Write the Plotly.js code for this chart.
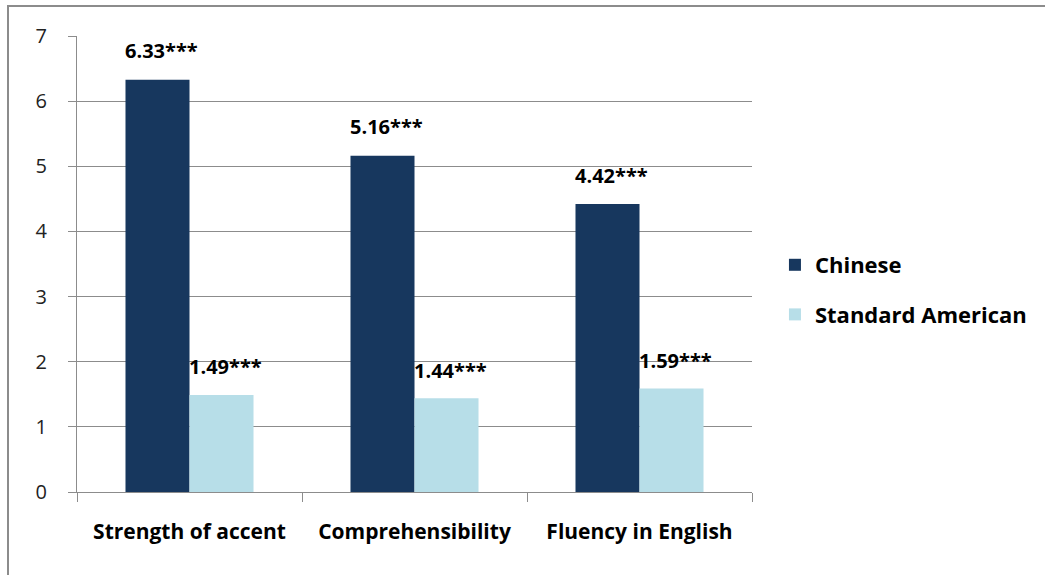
<!DOCTYPE html>
<html>
<head>
<meta charset="utf-8">
<script src="https://cdn.plot.ly/plotly-3.0.1.min.js"></script>
<style>
  html, body { margin: 0; padding: 0; background: #fff; }
  #wrap { position: relative; width: 1045px; height: 575px; overflow: hidden; }
  #chart { width: 1045px; height: 575px; }
  #frame { position: absolute; left: 7px; top: 5px; width: 1100px; height: 700px;
           border-top: 2px solid #8c8c8c; border-left: 2px solid #8c8c8c; pointer-events: none; }
</style>
</head>
<body>
<div id="wrap"><div id="chart"></div><div id="frame"></div></div>
<script>
const categories = ["Strength of accent", "Comprehensibility", "Fluency in English"];
const chineseValues = [6.33, 5.16, 4.42];
const americanValues = [1.49, 1.44, 1.59];
const chineseLabels = ["6.33***", "5.16***", "4.42***"];
const americanLabels = ["1.49***", "1.44***", "1.59***"];
const seriesNames = ["Chinese", "Standard American"];
const yTicks = [0, 1, 2, 3, 4, 5, 6, 7];

const FONT = "'Open Sans', 'Noto Sans', sans-serif";

const traces = [
  { type: "bar", name: seriesNames[0], x: categories, y: chineseValues,
    marker: { color: "#17375E" }, legendgroup: "a", hoverinfo: "none" },
  { type: "bar", name: seriesNames[1], x: categories, y: americanValues,
    marker: { color: "#B7DEE8" }, legendgroup: "b", hoverinfo: "none" }
];

const annotations = [];
categories.forEach((c, i) => {
  annotations.push({ x: c, y: chineseValues[i], xref: "x", yref: "y", text: "<b>" + chineseLabels[i] + "</b>",
    showarrow: false, xanchor: "left", yanchor: "middle", xshift: -67, yshift: 29,
    font: { family: FONT, size: 20, color: "#000" } });
  annotations.push({ x: c, y: americanValues[i], xref: "x", yref: "y", text: "<b>" + americanLabels[i] + "</b>",
    showarrow: false, xanchor: "left", yanchor: "middle", xshift: -3, yshift: 28,
    font: { family: FONT, size: 20, color: "#000" } });
});

const layout = {
  width: 1045, height: 575,
  margin: { l: 77, r: 293, t: 36, b: 83 },
  paper_bgcolor: "#fff", plot_bgcolor: "#fff",
  barmode: "group", bargap: 0.431, bargroupgap: 0,
  font: { family: FONT, color: "#000" },
  xaxis: {
    type: "category", tickson: "boundaries", ticks: "outside", ticklen: 9, tickcolor: "#8c8c8c",
    showline: true, linecolor: "#8c8c8c", linewidth: 1, showgrid: false,
    tickfont: { family: FONT, size: 21, color: "#000", weight: "bold" },
    ticklabelstandoff: 21
  },
  yaxis: {
    range: [0, 7], tickvals: yTicks, ticks: "outside", ticklen: 8, tickcolor: "#8c8c8c",
    showline: true, linecolor: "#8c8c8c", linewidth: 1,
    showgrid: true, gridcolor: "#8c8c8c", gridwidth: 1, zeroline: false,
    tickfont: { family: FONT, size: 20, color: "#222" },
    ticklabelstandoff: 17
  },
  showlegend: true,
  legend: {
    x: 1.034, xanchor: "left", y: 0.443, yanchor: "middle",
    traceorder: "grouped", tracegroupgap: 18, itemwidth: 30,
    font: { family: FONT, size: 22, color: "#000", weight: "bold" },
    bgcolor: "rgba(0,0,0,0)"
  },
  annotations: annotations
};

Plotly.newPlot("chart", traces, layout, { displayModeBar: false, staticPlot: true });
</script>
</body>
</html>
